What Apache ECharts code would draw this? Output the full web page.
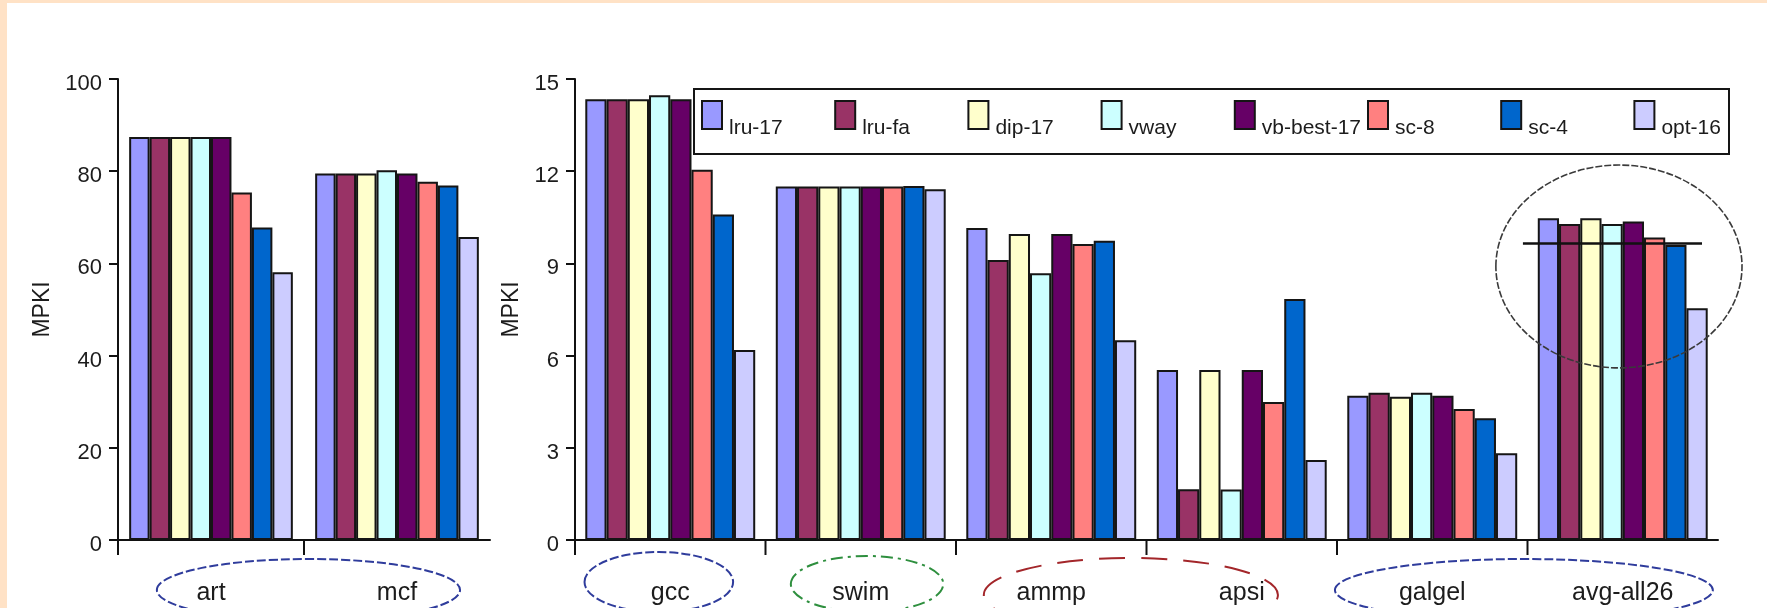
<!DOCTYPE html>
<html>
<head>
<meta charset="utf-8">
<script src="https://cdn.jsdelivr.net/npm/echarts@6/dist/echarts.min.js"></script>
<style>
  html, body { margin: 0; padding: 0; width: 1767px; height: 608px; overflow: hidden; background: #FFE2C6; }
  #chart { position: absolute; left: 7px; top: 3px; width: 1760px; height: 605px; background: #ffffff; }
</style>
</head>
<body>
<div id="chart"></div>
<script>
// Benchmarks: the first panel holds the high-MPKI programs, the second the rest.
const leftCategories = ['art', 'mcf'];
const rightCategories = ['gcc', 'swim', 'ammp', 'apsi', 'galgel', 'avg-all26'];

// Policies, in legend order.
const policyNames = ['lru-17', 'lru-fa', 'dip-17', 'vway', 'vb-best-17', 'sc-8', 'sc-4', 'opt-16'];
const policyColors = ['#9999FF', '#993366', '#FFFFCC', '#CCFFFF', '#660066', '#FF8080', '#0066CC', '#CCCCFF'];

// MPKI per policy: art, mcf | gcc, swim, ammp, apsi, galgel, avg-all26
const lru17     = [87.4, 79.5, 14.34, 11.50, 10.15, 5.53, 4.69, 10.47];
const lruFa     = [87.4, 79.5, 14.34, 11.50,  9.11, 1.65, 4.79, 10.28];
const dip17     = [87.4, 79.5, 14.34, 11.50,  9.96, 5.53, 4.66, 10.47];
const vway      = [87.4, 80.2, 14.47, 11.50,  8.68, 1.64, 4.79, 10.28];
const vbBest17  = [87.4, 79.5, 14.34, 11.50,  9.96, 5.53, 4.69, 10.36];
const sc8       = [75.4, 77.7, 12.05, 11.50,  9.63, 4.49, 4.26,  9.84];
const sc4       = [67.8, 76.9, 10.59, 11.52,  9.74, 7.84, 3.96,  9.60];
const opt16     = [58.1, 65.7,  6.18, 11.41,  6.50, 2.60, 2.82,  7.54];
const policyValues = [lru17, lruFa, dip17, vway, vbBest17, sc8, sc4, opt16];

// Axis ticks
const leftTicks = [0, 20, 40, 60, 80, 100];
const rightTicks = [0, 3, 6, 9, 12, 15];

// Reference level marked across the average group
const avgLevel = 9.65;

// Prefer a narrow sans face when the system has one; size the text to suit.
function hasFont(name) {
  const ctx = document.createElement('canvas').getContext('2d');
  const sample = 'MPKI lru-17 vb-best-17 0123456789';
  ctx.font = '40px monospace';
  const a = ctx.measureText(sample).width;
  ctx.font = "40px '" + name + "', monospace";
  const b = ctx.measureText(sample).width;
  return Math.abs(a - b) > 1;
}
const narrow = hasFont('Liberation Sans Narrow');
const FONT = narrow ? "'Liberation Sans Narrow', 'Liberation Sans', Arial, sans-serif"
                    : "'Liberation Sans', Arial, Helvetica, sans-serif";
const SIZE = narrow
  ? { tick: 26, cat: 29, legend: 25, name: 26, legendPad: 22 }
  : { tick: 22, cat: 25, legend: 21, name: 23, legendPad: 26 };
const INK = '#1c1c1c';

// Outline ovals around the category names (positions in category units from the first category)
const navy = { stroke: '#2f3c9c', lineWidth: 2, lineDash: [9, 3] };
const leftOvals = [
  { at: 0.524, rx: 0.815, dy: 50, ry: 31, style: navy }
];
const rightOvals = [
  { at: -0.06, rx: 0.39, dy: 42, ry: 30, style: navy },
  { at: 1.033, rx: 0.40, dy: 44, ry: 28, style: { stroke: '#2e8f3e', lineWidth: 2, lineDash: [12, 5, 3, 5] } },
  { at: 2.418, rx: 0.772, dy: 55, ry: 37, style: { stroke: '#a3262a', lineWidth: 2, lineDash: [26, 16] } },
  { at: 4.481, rx: 0.992, dy: 50, ry: 31, style: navy }
];
// Circle around the average group and its level line
const avgRing = { cat: 5, at: -0.02, value: 8.9, rx: 0.646, ryValue: 3.3 };
const avgLine = { cat: 5, from: -0.524, to: 0.416 };

function ovalRenderer(list) {
  return function (params, api) {
    const o = list[params.dataIndex];
    const band = api.size([1, 0])[0];
    const base = api.coord([0, 0]);
    return {
      type: 'ellipse',
      silent: true,
      shape: { cx: base[0] + o.at * band, cy: base[1] + o.dy, rx: o.rx * band, ry: o.ry },
      style: Object.assign({ fill: 'none' }, o.style)
    };
  };
}

// Category separators: a tick at the left edge of every category band
function separatorRenderer(params, api) {
  const band = api.size([1, 0])[0];
  const p = api.coord([api.value(0), 0]);
  const x = p[0] - band / 2;
  return {
    type: 'line', silent: true,
    shape: { x1: x, y1: p[1], x2: x, y2: p[1] + 15 },
    style: { stroke: '#111', lineWidth: 2 }
  };
}

function avgMarkRenderer(params, api) {
  const band = api.size([1, 0])[0];
  const c = api.coord([avgRing.cat, avgRing.value]);
  const ry = api.size([0, avgRing.ryValue])[1];
  const l = api.coord([avgLine.cat, avgLevel]);
  return {
    type: 'group',
    silent: true,
    children: [
      {
        type: 'ellipse',
        shape: { cx: c[0] + avgRing.at * band, cy: c[1], rx: avgRing.rx * band, ry: ry },
        style: { fill: 'none', stroke: '#3a3a3a', lineWidth: 1.6, lineDash: [7, 2] }
      },
      {
        type: 'line',
        shape: { x1: l[0] + avgLine.from * band, y1: l[1], x2: l[0] + avgLine.to * band, y2: l[1] },
        style: { stroke: '#111', lineWidth: 2.5 }
      }
    ]
  };
}

const axisLineStyle = { color: '#111', width: 2 };

function categoryAxis(gridIndex, data) {
  return {
    type: 'category', gridIndex: gridIndex, data: data, boundaryGap: true,
    axisLine: { show: true, lineStyle: axisLineStyle },
    axisTick: { show: false },
    axisLabel: { fontSize: SIZE.cat, margin: 41, color: INK, fontFamily: FONT },
    splitLine: { show: false }
  };
}

function valueAxis(gridIndex, ticks, nameGap) {
  return {
    type: 'value', gridIndex: gridIndex,
    min: ticks[0], max: ticks[ticks.length - 1], interval: ticks[1] - ticks[0],
    name: 'MPKI', nameLocation: 'middle', nameGap: nameGap, nameRotate: 90,
    nameTextStyle: { fontSize: SIZE.name, color: INK, fontFamily: FONT },
    axisLine: { show: true, lineStyle: axisLineStyle },
    axisTick: { show: true, length: 9, inside: false, lineStyle: axisLineStyle },
    axisLabel: {
      margin: 16, color: INK, fontFamily: FONT, fontSize: SIZE.tick,
      formatter: '{v|{value}}',
      rich: { v: { fontSize: SIZE.tick, color: INK, fontFamily: FONT, padding: [10, 0, 0, 0] } }
    },
    splitLine: { show: false }
  };
}

const series = [];
policyNames.forEach(function (name, i) {
  const common = {
    name: name, type: 'bar', barGap: '0%',
    itemStyle: { color: policyColors[i], borderColor: '#151515', borderWidth: 2 },
    emphasis: { disabled: true }
  };
  series.push(Object.assign({}, common, {
    xAxisIndex: 0, yAxisIndex: 0, barCategoryGap: '12%',
    data: policyValues[i].slice(0, 2)
  }));
  series.push(Object.assign({}, common, {
    xAxisIndex: 1, yAxisIndex: 1, barCategoryGap: '10.8%',
    data: policyValues[i].slice(2)
  }));
});
series.push({
  type: 'custom', name: 'left-separators', xAxisIndex: 0, yAxisIndex: 0, clip: false, z: 4,
  renderItem: separatorRenderer, data: leftCategories.map(function (c, i) { return [i, 0]; })
});
series.push({
  type: 'custom', name: 'right-separators', xAxisIndex: 1, yAxisIndex: 1, clip: false, z: 4,
  renderItem: separatorRenderer, data: rightCategories.map(function (c, i) { return [i, 0]; })
});
series.push({
  type: 'custom', name: 'left-ovals', xAxisIndex: 0, yAxisIndex: 0, clip: false, z: 5,
  renderItem: ovalRenderer(leftOvals), data: leftOvals.map(function () { return [0, 0]; })
});
series.push({
  type: 'custom', name: 'right-ovals', xAxisIndex: 1, yAxisIndex: 1, clip: false, z: 5,
  renderItem: ovalRenderer(rightOvals), data: rightOvals.map(function () { return [0, 0]; })
});
series.push({
  type: 'custom', name: 'avg-mark', xAxisIndex: 1, yAxisIndex: 1, clip: false, z: 5,
  renderItem: avgMarkRenderer, data: [[5, avgLevel]]
});

// One legend per policy so the entries sit on an even pitch inside the frame
const legends = policyNames.map(function (name, i) {
  return {
    data: [name], left: 694 + 133.2 * i, top: 97, padding: 0,
    itemWidth: 20, itemHeight: 28, icon: 'rect',
    itemStyle: { borderColor: '#151515', borderWidth: 2 },
    formatter: '{t|{name}}',
    textStyle: {
      fontSize: SIZE.legend, color: INK, fontFamily: FONT,
      rich: { t: { fontSize: SIZE.legend, color: INK, fontFamily: FONT, padding: [SIZE.legendPad, 0, 0, 2] } }
    }
  };
});

const chart = echarts.init(document.getElementById('chart'), null, { renderer: 'canvas' });
chart.setOption({
  animation: false,
  backgroundColor: '#ffffff',
  textStyle: { fontFamily: FONT },
  grid: [
    { left: 111, top: 76, width: 372, height: 461, containLabel: false },
    { left: 568, top: 76, width: 1143, height: 461, containLabel: false }
  ],
  xAxis: [categoryAxis(0, leftCategories), categoryAxis(1, rightCategories)],
  yAxis: [valueAxis(0, leftTicks, 64), valueAxis(1, rightTicks, 52)],
  legend: legends,
  graphic: [{
    type: 'rect', silent: true, z: 1,
    shape: { x: 687, y: 86, width: 1035, height: 65 },
    style: { fill: '#ffffff', stroke: '#151515', lineWidth: 2 }
  }],
  series: series
});
</script>
</body>
</html>
